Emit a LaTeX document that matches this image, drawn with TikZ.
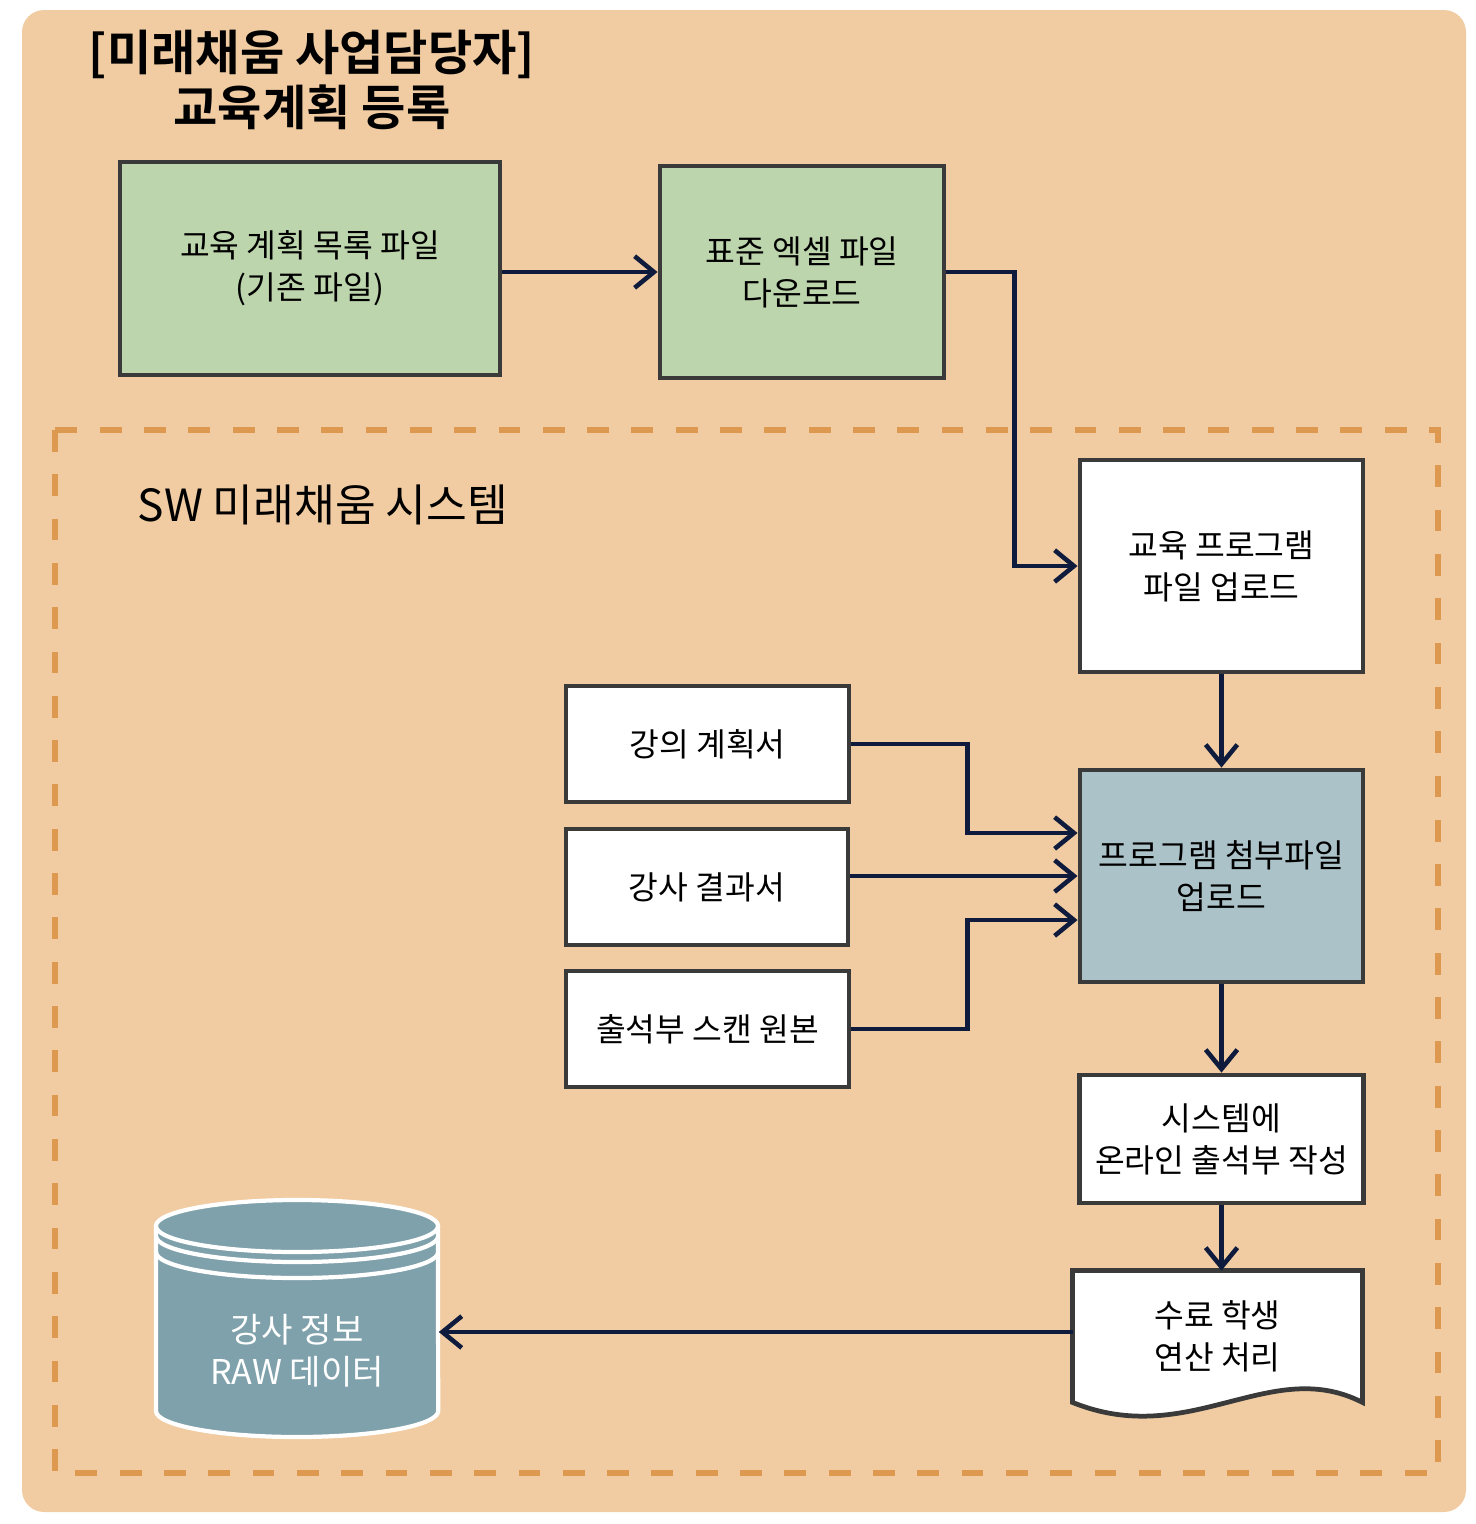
\documentclass[tikz,border=0pt]{standalone}
\usepackage{fontspec}
\newfontfamily\kr{Noto Sans CJK KR}[BoldFont={Noto Sans CJK KR Bold}]
\usetikzlibrary{arrows.meta}
\definecolor{bgorange}{HTML}{F1CCA2}
\definecolor{dashorange}{HTML}{DC994F}
\definecolor{boxgreen}{HTML}{BDD5AC}
\definecolor{boxblue}{HTML}{ABC2C8}
\definecolor{dbblue}{HTML}{7FA1AB}
\definecolor{boxline}{HTML}{3A3A3A}
\definecolor{arrowcol}{HTML}{0F1B3D}
\tikzset{
	box/.style={draw=boxline, line width=1.35pt, fill=white, align=center, inner sep=0pt,
		font=\kr\fontsize{9.2}{12}\selectfont},
	arr/.style={draw=arrowcol, line width=1.3pt, -{Straight Barb[length=5.5pt,width=9pt,line width=1.3pt]}},
}
\begin{document}
\begin{tikzpicture}[x=0.01cm,y=-0.01cm]
	\useasboundingbox (0,0) rectangle (1476,1524);
	\fill[bgorange, rounded corners=0.22cm] (22,10) rectangle (1466,1512);
	\draw[dashorange, line width=1.7pt, dash pattern=on 6.2pt off 6.4pt] (55,430) rectangle (1438,1473);
	% titles
	\node[align=center, font=\kr\bfseries\fontsize{13.7}{15.6}\selectfont] (title) at (312,80) {[미래채움 사업담당자]\\교육계획 등록};
	\node[anchor=west, inner sep=0pt, font=\kr\fontsize{12.6}{14}\selectfont] (sys) at (137,505) {SW 미래채움 시스템};
	% boxes
	\node[box, fill=boxgreen, minimum width=3.8cm, minimum height=2.13cm] (plan) at (310,268.5) {교육 계획 목록 파일\\(기존 파일)};
	\node[box, fill=boxgreen, minimum width=2.84cm, minimum height=2.12cm] (excel) at (802,272) {표준 엑셀 파일\\다운로드};
	\node[box, minimum width=2.83cm, minimum height=2.12cm] (prog) at (1221.5,566) {교육 프로그램\\파일 업로드};
	\node[box, minimum width=2.83cm, minimum height=1.16cm] (lect) at (707.5,744) {강의 계획서};
	\node[box, minimum width=2.82cm, minimum height=1.16cm] (result) at (707,887) {강사 결과서};
	\node[box, minimum width=2.83cm, minimum height=1.16cm] (attend) at (707.5,1029) {출석부 스캔 원본};
	\node[box, fill=boxblue, minimum width=2.83cm, minimum height=2.12cm] (attach) at (1221.5,876) {프로그램 첨부파일\\업로드};
	\node[box, minimum width=2.84cm, minimum height=1.28cm] (online) at (1221.5,1139) {시스템에\\온라인 출석부 작성};
	% document shape
	\node[box, draw=none, fill=none, minimum width=2.85cm, minimum height=1.27cm] (calc) at (1217.5,1336.5) {};
	\draw[boxline, line width=1.35pt, fill=white] (calc.north west) -- (calc.north east) -- (calc.south east)
		.. controls (1270,1355) and (1190,1450) .. (calc.south west) -- cycle;
	\node[box, draw=none, fill=none] at (calc.center) {수료 학생\\연산 처리};
	% database
	\node[draw=none, minimum width=2.82cm, minimum height=2.1cm] (db) at (297,1318) {};
	\fill[dbblue] (156,1226) -- (156,1411) arc[start angle=180, end angle=360, x radius=1.41cm, y radius=0.26cm]
		-- (438,1226) arc[start angle=0, end angle=180, x radius=1.41cm, y radius=0.26cm] -- cycle;
	\draw[white, line width=1.2pt] (156,1226) -- (156,1411) arc[start angle=180, end angle=360, x radius=1.41cm, y radius=0.26cm] -- (438,1226);
	\draw[white, line width=1.2pt] (297,1226) ellipse[x radius=1.41cm, y radius=0.26cm];
	\foreach\y in {1236,1252}{
		\draw[white, line width=1.2pt] (156,\y) arc[start angle=180, end angle=360, x radius=1.41cm, y radius=0.26cm];
	}
	\node[align=center, text=white, font=\kr\fontsize{9.7}{12}\selectfont] (dbtext) at (297,1351) {강사 정보\\RAW 데이터};
	% connectors
	\draw[arr] (plan.east |- excel.west) -- (excel.west);
	\draw[arr] (excel.east) -- ++(68,0) |- (prog.west);
	\draw[arr] (prog.south) -- (attach.north);
	\draw[arr] (lect.east) -| ++(116,0) |- ([yshift=0.43cm]attach.west);
	\draw[arr] (result.east |- attach.west) -- (attach.west);
	\draw[arr] (attend.east) -| ++(116,0) |- ([yshift=-0.44cm]attach.west);
	\draw[arr] (attach.south) -- (online.north);
	\draw[arr] (online.south) -- (online.south |- calc.north);
	\draw[arr] (calc.west |- 0,1332) -- (db.east |- 0,1332);
\end{tikzpicture}
\end{document}
